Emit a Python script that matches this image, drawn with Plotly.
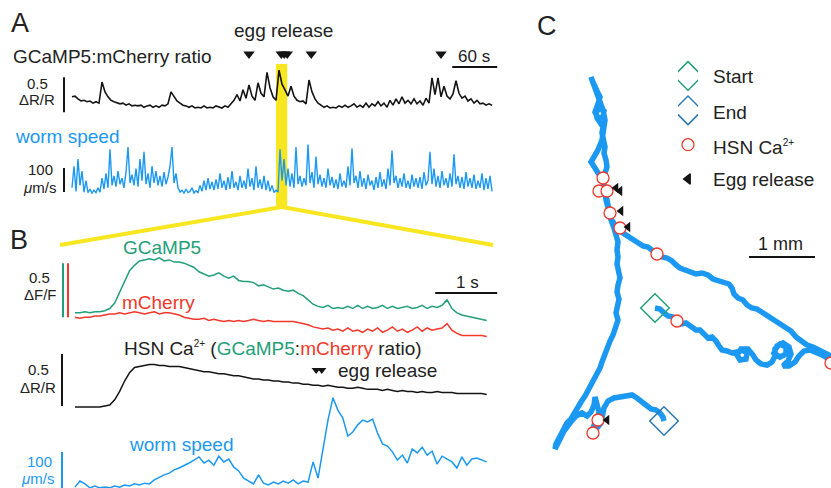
import numpy as np
import plotly.graph_objects as go

W, H = 831, 488
FONT = "Liberation Sans, Arial, Helvetica, sans-serif"

BLACK = "#141414"
BLUE = "#1b98f1"
GREEN = "#23a079"
RED = "#f2382b"
STEEL = "#2a78b0"
YELLOW = "#f7e620"

# ---------------- Panel A : whole recording ----------------
ratio_A_dt = 4.0  # s per sample
ratio_A = [0.16, 0.17, 0.13, 0.10, 0.11, 0.09, 0.10, 0.07, 0.09, 0.07,
           0.37, 0.23, 0.16, 0.11, 0.09, 0.07, 0.06, 0.07, 0.04, 0.06,
           0.03, 0.04, 0.03, 0.04, 0.01, 0.03, 0.04, 0.01, 0.03, 0.01,
           0.04, 0.03, 0.06, 0.23, 0.17, 0.10, 0.07, 0.04, 0.03, 0.01,
           0.03, 0.00, 0.01, 0.00, 0.03, 0.00, 0.01, 0.00, 0.03, 0.01,
           0.00, 0.03, 0.01, 0.06, 0.11, 0.19, 0.10, 0.26, 0.14, 0.33,
           0.17, 0.11, 0.36, 0.21, 0.16, 0.51, 0.29, 0.16, 0.11, 0.54,
           0.34, 0.26, 0.17, 0.31, 0.17, 0.11, 0.09, 0.10, 0.06, 0.40,
           0.23, 0.13, 0.07, 0.04, 0.01, 0.03, 0.00, 0.01, 0.00, 0.03,
           0.01, 0.04, 0.01, 0.03, 0.06, 0.01, 0.04, 0.01, 0.07, 0.01,
           0.06, 0.03, 0.09, 0.03, 0.07, 0.01, 0.11, 0.04, 0.13, 0.06,
           0.16, 0.07, 0.11, 0.06, 0.13, 0.06, 0.10, 0.04, 0.14, 0.07,
           0.43, 0.19, 0.43, 0.16, 0.31, 0.17, 0.13, 0.20, 0.39, 0.21,
           0.14, 0.17, 0.10, 0.13, 0.07, 0.11, 0.06, 0.07, 0.04, 0.06,
           0.04]
speed_A = [30, 120, 15, 150, 40, 100, 12, 60,
           10, 25, 8, 20, 10, 30, 12,
           70, 25, 90, 30, 190, 40,
           80, 35, 100, 45, 70, 30, 95,
           200, 50, 85, 40, 110, 35, 150,
           60, 180, 45, 90, 30, 120, 50,
           100, 40, 80, 35, 95, 45, 75,
           120, 200, 50, 90, 30,
           12, 20, 8, 25, 10, 15, 30, 8, 18, 10,
           40, 15, 60, 20, 70, 25, 55,
           20, 65, 25, 90, 30, 60, 20,
           75, 25, 100, 30, 55, 20, 80,
           30, 60, 25, 110, 35, 70, 20,
           120, 30, 65, 25, 80, 20, 60,
           15, 40, 10, 20, 12, 190,
           60, 150, 40, 110, 35,
           90, 30, 200, 45, 80, 35, 70,
           40, 210, 50, 95, 30, 160, 45,
           85, 35, 70, 30, 110, 40, 75,
           30, 65, 25, 90, 35, 60, 30,
           120, 40, 195, 50, 80, 30, 100,
           35, 70, 25, 85, 40, 60, 20,
           75, 30, 95, 35, 65, 25, 110,
           40, 185, 50, 80, 30, 70, 35,
           90, 30, 60, 25, 85, 35, 70,
           30, 75, 25, 95, 40, 60, 180,
           45, 110, 35, 80, 30, 100, 40,
           70, 30, 90, 35, 170, 45, 80,
           30, 75, 25, 95, 35, 70, 30,
           85, 25, 60, 30, 90, 20, 70,
           25, 80, 15]
egg_A = [236, 279, 283, 287, 319, 492]       # s
window_A = [272, 287]                          # s, zoomed in panel B

# ---------------- Panel B : zoom on one event ----------------
B_dt = 0.08  # s per sample
gcamp_B = [0.02, 0.02, 0.03, 0.02, 0.03, 0.03, 0.04, 0.06, 0.11, 0.21,
           0.31, 0.41, 0.46, 0.50, 0.51, 0.52, 0.51, 0.53, 0.50, 0.51,
           0.49, 0.49, 0.48, 0.46, 0.44, 0.40, 0.38, 0.36, 0.37, 0.39,
           0.36, 0.34, 0.36, 0.32, 0.31, 0.31, 0.30, 0.27, 0.28, 0.26,
           0.24, 0.25, 0.23, 0.22, 0.23, 0.20, 0.18, 0.14, 0.10, 0.08,
           0.07, 0.09, 0.06, 0.07, 0.06, 0.08, 0.06, 0.09, 0.06, 0.08,
           0.06, 0.07, 0.09, 0.06, 0.08, 0.06, 0.07, 0.08, 0.06, 0.07,
           0.09, 0.06, 0.08, 0.07, 0.09, 0.14, 0.06, 0.02, 0.00, -0.01,
           -0.02, -0.03, -0.04, -0.05]
mcherry_B = [-0.02, -0.03, -0.02, -0.02, -0.01, -0.01, 0.00, 0.01, 0.01, 0.02,
             0.01, 0.02, 0.03, 0.02, 0.01, 0.02, 0.03, 0.01, 0.02, 0.02,
             0.01, 0.00, -0.02, -0.03, -0.04, -0.04, -0.03, -0.05, -0.04, -0.05,
             -0.06, -0.05, -0.06, -0.05, -0.06, -0.05, -0.04, -0.05, -0.06, -0.05,
             -0.06, -0.06, -0.06, -0.06, -0.06, -0.07, -0.08, -0.09, -0.11, -0.12,
             -0.13, -0.12, -0.14, -0.13, -0.15, -0.12, -0.15, -0.14, -0.16, -0.13,
             -0.15, -0.12, -0.16, -0.14, -0.11, -0.15, -0.13, -0.16, -0.14, -0.11,
             -0.15, -0.12, -0.14, -0.13, -0.12, -0.08, -0.14, -0.17, -0.19, -0.19,
             -0.19, -0.19, -0.19, -0.20]
ratio_B = [-0.01, -0.01, -0.01, -0.01, -0.01, -0.01, 0.00, 0.01, 0.06, 0.14,
           0.24, 0.32, 0.37, 0.38, 0.39, 0.40, 0.40, 0.39, 0.39, 0.38,
           0.38, 0.38, 0.37, 0.36, 0.35, 0.34, 0.33, 0.33, 0.32, 0.31,
           0.31, 0.30, 0.29, 0.29, 0.28, 0.27, 0.26, 0.26, 0.25, 0.25,
           0.24, 0.24, 0.23, 0.23, 0.22, 0.22, 0.21, 0.21, 0.20, 0.20,
           0.19, 0.20, 0.19, 0.18, 0.18, 0.17, 0.17, 0.18, 0.17, 0.16,
           0.16, 0.16, 0.15, 0.16, 0.15, 0.14, 0.15, 0.14, 0.14, 0.13,
           0.14, 0.13, 0.13, 0.14, 0.13, 0.13, 0.13, 0.12, 0.12, 0.12,
           0.12, 0.12, 0.12, 0.11]
speed_B = [8, 25, 17, 6, 11, 6, 8, 6, 11, 8,
           14, 11, 17, 14, 19, 17, 28, 36, 42, 47,
           56, 61, 67, 75, 83, 92, 75, 83, 69, 94,
           78, 86, 64, 53, 33, 25, 17, 42, 19, 14,
           22, 17, 25, 19, 28, 17, 25, 22, 78, 33,
           111, 194, 256, 222, 200, 150, 161, 181, 194, 189,
           197, 158, 128, 122, 106, 83, 97, 75, 114, 103,
           119, 97, 108, 72, 94, 86, 78, 61, 92, 69,
           86, 89, 83, 78]
egg_B = [3.89, 3.98]  # s

# ---------------- Panel C : worm track (camera px, 66 px = 1 mm) ----------------
track_points = [
    (655, 308), (660, 309), (664, 313), (668, 316), (673, 317), (677, 321), (681, 324),
    (686, 323), (691, 326), (696, 330), (700, 330), (704, 334), (708, 338), (712, 337),
    (716, 341), (719, 346), (722, 350), (727, 351), (732, 353), (737, 352),
    (742, 350), (747, 353), (746, 359), (740, 360), (737, 355), (741, 349), (748, 349),
    (753, 355), (756, 360), (761, 364), (767, 365), (772, 362),
    (775, 356), (775, 349), (780, 344), (786, 347), (786, 354), (780, 357), (774, 353),
    (777, 346), (783, 343), (789, 347), (791, 354), (788, 361), (783, 366), (789, 366),
    (795, 362), (799, 356), (804, 351), (810, 350), (816, 352), (822, 355), (827, 358),
    (833, 362),
    (833, 357), (826, 353), (819, 350), (813, 347), (807, 345), (801, 341), (796, 337),
    (791, 331), (786, 328), (781, 325), (777, 321), (772, 318), (767, 316), (762, 312),
    (757, 309), (752, 308), (747, 305), (743, 300), (738, 298), (734, 294), (732, 288),
    (729, 284), (724, 282), (719, 281), (713, 279), (708, 275), (702, 273), (696, 274),
    (690, 272), (685, 269), (680, 268), (676, 265), (672, 261), (667, 258), (662, 257),
    (657, 254), (652, 251), (648, 247), (643, 246), (638, 243), (633, 240), (628, 237),
    (623, 233), (619, 229), (615, 225), (611, 219), (609, 213), (607, 207), (606, 200),
    (605, 193), (604, 187), (603, 180), (605, 173), (607, 167), (606, 160), (604, 153),
    (605, 147), (603, 140), (602, 133), (603, 127), (600, 122),
    (597, 118), (596, 112), (600, 108), (604, 111), (603, 117), (598, 118), (595, 112),
    (598, 104), (600, 97), (597, 91), (594, 86), (592, 80), (591, 77),
    (594, 85), (598, 93), (601, 101), (603, 110), (605, 120), (604, 130), (602, 140),
    (598, 150), (594, 157), (591, 162), (595, 168), (599, 174), (603, 181),
    (605, 190), (607, 200), (608, 210), (611, 220), (614, 228), (616, 235), (618, 242),
    (617, 250), (618, 257), (617, 264), (619, 271), (620, 278), (618, 285), (617, 292),
    (619, 299), (618, 306), (616, 313), (618, 320), (616, 327), (613, 335), (610, 341),
    (607, 348), (604, 355), (602, 362), (600, 368), (597, 374), (594, 380), (591, 385),
    (588, 391), (585, 396), (581, 402), (578, 408), (575, 414), (571, 419), (567, 423),
    (564, 428), (561, 433), (558, 438), (556, 444), (555, 449),
    (559, 440), (564, 431), (570, 423), (576, 416), (582, 413), (587, 416), (591, 412),
    (594, 405), (595, 397), (597, 404), (599, 412), (598, 419), (594, 425), (593, 431),
    (597, 428), (601, 423), (603, 416), (604, 408), (608, 401), (614, 398), (620, 397),
    (626, 396), (632, 395), (637, 398), (642, 402), (646, 406), (651, 409), (656, 410),
    (660, 413), (663, 417), (664, 421),
]
hsn_x = [603, 599, 607, 610, 620, 657, 677, 831, 598, 593]
hsn_y = [178, 191, 191, 213, 228, 254, 321, 363, 420, 433]
egg_x = [616, 620, 621, 628, 607]
egg_y = [188, 191, 211, 227, 420]
mm_px = 66  # camera px per mm

track_x = [p[0] for p in track_points]
track_y = [p[1] for p in track_points]

# ---------------- helpers ----------------
def px(x):
    return x / W


def py(y):
    return 1 - y / H


def dom_x(a, b):
    return [a / W, b / W]


def dom_y(top, bottom):
    return [1 - bottom / H, 1 - top / H]


fig = go.Figure()

tA = np.arange(len(ratio_A)) * ratio_A_dt
tA_speed = np.linspace(0, tA[-1], len(speed_A))
tB = np.arange(len(gcamp_B)) * B_dt

# Panel A traces
fig.add_trace(go.Scatter(x=tA, y=ratio_A, mode="lines", line=dict(color=BLACK, width=1.6),
                         xaxis="x", yaxis="y", hoverinfo="skip"))
fig.add_trace(go.Scatter(x=egg_A, y=[0.77] * len(egg_A), mode="markers",
                         marker=dict(symbol="triangle-down", size=10, color=BLACK),
                         xaxis="x", yaxis="y", hoverinfo="skip"))
fig.add_trace(go.Scatter(x=tA_speed, y=speed_A, mode="lines", line=dict(color=BLUE, width=1.4),
                         xaxis="x2", yaxis="y2", hoverinfo="skip"))

# Panel B traces
fig.add_trace(go.Scatter(x=tB, y=gcamp_B, mode="lines", line=dict(color=GREEN, width=1.5),
                         xaxis="x3", yaxis="y3", hoverinfo="skip"))
fig.add_trace(go.Scatter(x=tB, y=mcherry_B, mode="lines", line=dict(color=RED, width=1.5),
                         xaxis="x3", yaxis="y3", hoverinfo="skip"))
fig.add_trace(go.Scatter(x=tB, y=ratio_B, mode="lines", line=dict(color=BLACK, width=1.5),
                         xaxis="x4", yaxis="y4", hoverinfo="skip"))
fig.add_trace(go.Scatter(x=egg_B, y=[0.345] * len(egg_B), mode="markers",
                         marker=dict(symbol="triangle-down", size=8, color=BLACK),
                         xaxis="x4", yaxis="y4", hoverinfo="skip"))
fig.add_trace(go.Scatter(x=tB, y=speed_B, mode="lines", line=dict(color=BLUE, width=1.5),
                         xaxis="x5", yaxis="y5", hoverinfo="skip"))

# Panel C traces
fig.add_trace(go.Scatter(x=track_x, y=track_y, mode="lines",
                         line=dict(color=BLUE, width=5.5), xaxis="x6", yaxis="y6", hoverinfo="skip"))
fig.add_trace(go.Scatter(x=hsn_x, y=hsn_y, mode="markers",
                         marker=dict(symbol="circle", size=12, color="white", line=dict(color=RED, width=1.3)),
                         xaxis="x6", yaxis="y6", hoverinfo="skip"))
fig.add_trace(go.Scatter(x=egg_x, y=egg_y, mode="markers",
                         marker=dict(symbol="triangle-left", size=9, color=BLACK),
                         xaxis="x6", yaxis="y6", hoverinfo="skip"))
fig.add_trace(go.Scatter(x=[track_x[0]], y=[track_y[0]], mode="markers",
                         marker=dict(symbol="diamond-open", size=22, color=GREEN, line=dict(color=GREEN, width=1.5)),
                         xaxis="x6", yaxis="y6", hoverinfo="skip"))
fig.add_trace(go.Scatter(x=[track_x[-1]], y=[track_y[-1]], mode="markers",
                         marker=dict(symbol="diamond-open", size=22, color=STEEL, line=dict(color=STEEL, width=1.5)),
                         xaxis="x6", yaxis="y6", hoverinfo="skip"))

# Panel C legend keys
legend_symbols = ["diamond-open", "diamond-open", "circle", "triangle-left"]
legend_colors = [GREEN, STEEL, "white", BLACK]
legend_lines = [GREEN, STEEL, RED, BLACK]
legend_sizes = [22, 22, 12, 9]
for i in range(4):
    fig.add_trace(go.Scatter(x=[0], y=[i], mode="markers",
                             marker=dict(symbol=legend_symbols[i], size=legend_sizes[i], color=legend_colors[i],
                                         line=dict(color=legend_lines[i], width=1.5 if i < 2 else 1.3)),
                             xaxis="x7", yaxis="y7", hoverinfo="skip"))

hidden = dict(visible=False, showgrid=False, zeroline=False, fixedrange=True)

layout = dict(
    width=W, height=H, margin=dict(l=0, r=0, t=0, b=0),
    paper_bgcolor="white", plot_bgcolor="rgba(0,0,0,0)", showlegend=False,
    font=dict(family=FONT, color="#222"),
    xaxis=dict(domain=dom_x(55, 500), range=[(55 - 72) / 0.75, (500 - 72) / 0.75], anchor="y", **hidden),
    yaxis=dict(domain=dom_y(40, 118), range=[-10 / 70, 68 / 70], anchor="x", **hidden),
    xaxis2=dict(domain=dom_x(55, 500), range=[(55 - 72) / 0.75, (500 - 72) / 0.75], anchor="y2", **hidden),
    yaxis2=dict(domain=dom_y(125, 200), range=[-5 * 100 / 24, 70 * 100 / 24], anchor="x2", **hidden),
    xaxis3=dict(domain=dom_x(55, 500), range=[(55 - 75) / 62, (500 - 75) / 62], anchor="y3", **hidden),
    yaxis3=dict(domain=dom_y(240, 340), range=[-25 / 108, 75 / 108], anchor="x3", **hidden),
    xaxis4=dict(domain=dom_x(55, 500), range=[(55 - 75) / 62, (500 - 75) / 62], anchor="y4", **hidden),
    yaxis4=dict(domain=dom_y(340, 415), range=[-9 / 104, 66 / 104], anchor="x4", **hidden),
    xaxis5=dict(domain=dom_x(55, 500), range=[(55 - 75) / 62, (500 - 75) / 62], anchor="y5", **hidden),
    yaxis5=dict(domain=dom_y(390, 488), range=[2 * 100 / 36, 100 * 100 / 36], anchor="x5", **hidden),
    xaxis6=dict(domain=dom_x(530, 831), range=[530, 831], anchor="y6", **hidden),
    yaxis6=dict(domain=dom_y(0, 488), range=[488, 0], anchor="x6", **hidden),
    xaxis7=dict(domain=dom_x(678, 698), range=[-1, 1], anchor="y7", **hidden),
    yaxis7=dict(domain=dom_y(58.8, 196.2), range=[3.5, -0.5], anchor="x7", **hidden),
)
fig.update_layout(**layout)

shapes = []
# zoom window highlight and fan
shapes.append(dict(type="rect", xref="x", yref="paper", x0=window_A[0], x1=window_A[1],
                   y0=py(208), y1=py(64), fillcolor=YELLOW, line=dict(width=0), layer="below"))
shapes.append(dict(type="line", xref="paper", yref="paper", x0=px(282), y0=py(207), x1=px(60), y1=py(245),
                   line=dict(color=YELLOW, width=4), layer="below"))
shapes.append(dict(type="line", xref="paper", yref="paper", x0=px(282), y0=py(207), x1=px(493), y1=py(245),
                   line=dict(color=YELLOW, width=4), layer="below"))
# scale bars
def bar(xref, yref, x0, x1, y0, y1, color, width=2):
    shapes.append(dict(type="line", xref=xref, yref=yref, x0=x0, x1=x1, y0=y0, y1=y1,
                       line=dict(color=color, width=width)))

tA_bar = (64 - 72) / 0.75
bar("x", "y", tA_bar, tA_bar, -0.06, 0.44, BLACK)
bar("x", "y", 507, 567, 0.586, 0.586, BLACK)                 # 60 s
bar("x2", "y2", tA_bar, tA_bar, 12.5, 112.5, BLACK)          # 100 um/s
bar("x3", "y3", (63 - 75) / 62, (63 - 75) / 62, -0.02, 0.48, GREEN)
bar("x3", "y3", (68 - 75) / 62, (68 - 75) / 62, -0.02, 0.48, RED)
bar("x3", "y3", 5.81, 6.81, 0.204, 0.204, BLACK)             # 1 s
bar("x4", "y4", (62 - 75) / 62, (62 - 75) / 62, 0.0, 0.5, BLACK)
bar("x5", "y5", (62 - 75) / 62, (62 - 75) / 62, 5.6, 105.6, BLUE)
bar("x6", "y6", 749, 749 + mm_px, 257, 257, BLACK)           # 1 mm
fig.update_layout(shapes=shapes)

anns = []
def ann(text, x, y, size=19, color="#222", xanchor="center"):
    anns.append(dict(text=text, x=px(x), y=py(y), xref="paper", yref="paper", showarrow=False,
                     xanchor=xanchor, yanchor="middle", font=dict(size=size, color=color, family=FONT)))

SUP = "<sup><span style='font-size:10px'>2+</span></sup>"
ann("A", 20, 23, 27)
ann("B", 19, 240, 27)
ann("C", 547, 26, 27)
ann("egg release", 283, 31)
ann("GCaMP5:mCherry ratio", 11, 56, xanchor="left")
ann("60 s", 474, 56, 17)
ann("0.5", 37, 83, 15)
ann("ΔR/R", 37, 99, 15)
ann("worm speed", 67, 136, color=BLUE)
ann("100", 40, 169, 15)
ann("<i>μ</i>m/s", 39, 187, 15)
ann("GCaMP5", 162, 247, color=GREEN)
ann("0.5", 39, 277, 15)
ann("ΔF/F", 40, 294, 15)
ann("mCherry", 158, 302, color=RED)
ann("1 s", 467, 282, 17)
ann("HSN Ca" + SUP + " (<span style='color:%s'>GCaMP5</span>:<span style='color:%s'>mCherry</span> ratio)"
    % (GREEN, RED), 273, 348)
ann("0.5", 38, 369, 15)
ann("ΔR/R", 38, 387, 15)
ann("egg release", 336, 370, xanchor="left")
ann("worm speed", 181, 444, color=BLUE)
ann("100", 39, 461, 15, BLUE)
ann("<i>μ</i>m/s", 37, 478, 15, BLUE)
legend_text = ["Start", "End", "HSN Ca" + SUP, "Egg release"]
legend_y = [76, 112, 147, 179]
for lbl, yy in zip(legend_text, legend_y):
    ann(lbl, 711, yy, xanchor="left")
ann("1 mm", 780, 244, 18)
fig.update_layout(annotations=anns)

fig.write_html("out.html", config={"displayModeBar": False, "staticPlot": True},
               post_script="document.body.style.margin='0px';document.body.style.overflow='hidden';")
